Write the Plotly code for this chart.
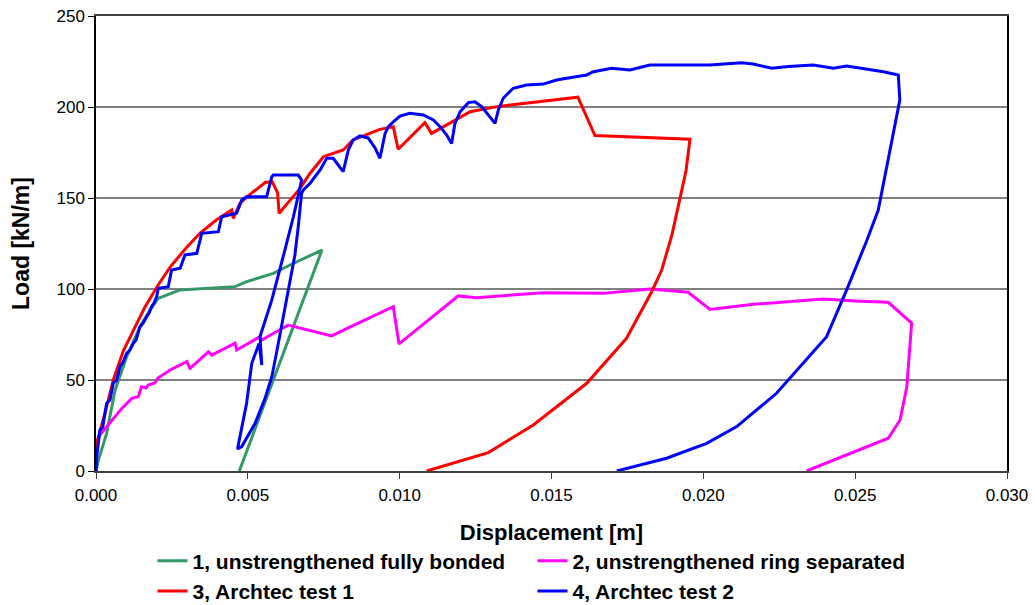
import plotly.graph_objects as go

# Load-displacement curves (displacement in m, load in kN/m)
fb_disp = [0, 0.00008, 0.00035, 0.00063, 0.00101, 0.00145, 0.00178, 0.00205, 0.00277,
           0.00458, 0.00496, 0.00584, 0.00639, 0.00744, 0.00472]
fb_load = [0, 6.0, 20.7, 44.5, 62.8, 79.3, 88.5, 94.9, 99.5,
           101.3, 104.0, 108.6, 113.2, 121.4, 0]

rs_disp = [0, 0.00002, 0.00008, 0.00046, 0.00085, 0.00118, 0.00139, 0.00150, 0.00165,
           0.00172, 0.00194, 0.00204, 0.00244, 0.00299, 0.00310, 0.00370, 0.00381,
           0.00458, 0.00463, 0.00540, 0.00546, 0.00633, 0.00776, 0.00836, 0.00979,
           0.00998, 0.01193, 0.01253, 0.01473, 0.01670, 0.01824, 0.01950, 0.02022,
           0.02165, 0.02395, 0.02500, 0.02609, 0.02686, 0.02670, 0.02648, 0.02609,
           0.02340]
rs_load = [0, 11.5, 18.8, 26.2, 34.4, 39.9, 40.8, 46.3, 45.6,
           47.3, 48.4, 51.1, 55.5, 60.1, 56.4, 65.5, 63.7,
           70.2, 66.5, 73.8, 72.0, 80.2, 74.2, 79.0, 90.3,
           69.8, 96.2, 95.2, 98.0, 97.6, 100.0, 98.2, 88.8,
           91.6, 94.5, 93.4, 92.7, 81.2, 46.3, 28.0, 18.0,
           0]

a1_disp = [0, 0.00002, 0.00030, 0.00057, 0.00090, 0.00123, 0.00161, 0.00200, 0.00244,
           0.00299, 0.00342, 0.00397, 0.00436, 0.00447, 0.00452, 0.00474, 0.00496,
           0.00557, 0.00580, 0.00598, 0.00603, 0.00672, 0.00705, 0.00749, 0.00814,
           0.00847, 0.00935, 0.00979, 0.00995, 0.01083, 0.01105, 0.01232, 0.01320,
           0.01587, 0.01643, 0.01797, 0.01956, 0.01943, 0.01923, 0.01897, 0.01863,
           0.01830, 0.01747, 0.01616, 0.01440, 0.01292, 0.01089]
a1_load = [0, 15.0, 32.0, 50.0, 66.0, 77.5, 90.0, 101.0, 112.0,
           123.0, 130.6, 138.0, 142.0, 143.4, 138.8, 147.0, 150.5,
           158.5, 159.0, 153.0, 141.6, 155.3, 163.6, 172.7, 176.4,
           182.0, 187.7, 189.2, 176.8, 191.4, 185.5, 197.4, 200.2,
           205.4, 184.3, 183.3, 182.3, 165.0, 149.0, 130.0, 110.4,
           98.5, 72.9, 48.2, 25.3, 10.1, 0]

a2_disp = [0, 0.00003, 0.00013, 0.00022, 0.00035, 0.00046, 0.00057, 0.00068, 0.00079,
           0.00089, 0.00101, 0.00112, 0.00123, 0.00132, 0.00145, 0.00155, 0.00167,
           0.00175, 0.00183, 0.00191, 0.00200, 0.00205, 0.00238, 0.00249, 0.00277,
           0.00293, 0.00332, 0.00348, 0.00403, 0.00414, 0.00463, 0.00480, 0.00496,
           0.00562, 0.00579, 0.00584, 0.00666, 0.00677, 0.00659, 0.00650, 0.00622,
           0.00579, 0.00540, 0.00546, 0.00537, 0.00513, 0.00496, 0.00469, 0.00466,
           0.00480, 0.00524, 0.00557, 0.00579, 0.00595, 0.00617, 0.00639, 0.00655,
           0.00666, 0.00677, 0.00683, 0.00705, 0.00738, 0.00760, 0.00781, 0.00814,
           0.00831, 0.00847, 0.00869, 0.00896, 0.00919, 0.00935, 0.00952, 0.00963,
           0.00979, 0.01001, 0.01034, 0.01078, 0.01111, 0.01133, 0.01155, 0.01171,
           0.01182, 0.01199, 0.01226, 0.01248, 0.01270, 0.01297, 0.01314, 0.01325,
           0.01341, 0.01374, 0.01418, 0.01473, 0.01517, 0.01550, 0.01616, 0.01638,
           0.01698, 0.01758, 0.01824, 0.02022, 0.02126, 0.02164, 0.02225, 0.02280,
           0.02362, 0.02428, 0.02472, 0.02593, 0.02642, 0.02647, 0.02636, 0.02576,
           0.02539, 0.02500, 0.02472, 0.02406, 0.02280, 0.02241, 0.02110, 0.02011,
           0.01879, 0.01835, 0.01715]
a2_load = [0, 8.8, 22.5, 24.0, 37.2, 39.0, 48.2, 50.0, 57.3,
           59.9, 64.7, 66.5, 70.2, 72.0, 79.3, 81.3, 84.8,
           86.8, 90.3, 92.3, 95.8, 100.4, 101.3, 110.4, 111.4,
           118.7, 119.6, 130.6, 131.5, 139.7, 141.6, 148.9, 150.7,
           150.7, 161.7, 162.6, 162.6, 159.9, 146.2, 139.7, 121.4,
           94.0, 73.8, 58.2, 70.0, 59.2, 37.2, 14.3, 12.1,
           13.4, 26.2, 40.1, 51.8, 65.4, 84.8, 103.1, 118.7,
           134.2, 152.6, 154.4, 158.1, 165.4, 171.8, 171.8, 164.5,
           176.4, 181.9, 184.1, 183.0, 177.5, 171.8, 185.5, 189.2,
           191.9, 195.0, 196.5, 195.6, 192.9, 189.2, 184.6, 180.0,
           191.0, 197.4, 202.4, 202.9, 200.2, 194.7, 191.0, 198.4,
           204.8, 210.3, 212.1, 212.6, 214.8, 215.8, 217.6, 219.4,
           221.3, 220.3, 223.1, 223.1, 224.3, 223.6, 221.3, 222.2,
           223.1, 221.3, 222.5, 219.4, 217.6, 203.8, 194.7, 143.4,
           126.9, 110.4, 99.5, 73.8, 50.0, 42.7, 24.4, 15.2,
           7.0, 5.1, 0]

series = [
    ("1, unstrengthened fully bonded", fb_disp, fb_load, "#339966"),
    ("2, unstrengthened ring separated", rs_disp, rs_load, "#FF00FF"),
    ("3, Archtec test 1", a1_disp, a1_load, "#FF0000"),
    ("4, Archtec test 2", a2_disp, a2_load, "#0000FF"),
]

FONT = "Liberation Sans, Arial, sans-serif"

fig = go.Figure()
for name, xs, ys, color in series:
    fig.add_trace(go.Scatter(x=xs, y=ys, mode="lines", name=name,
                             line=dict(color=color, width=3)))

fig.update_layout(
    width=1035, height=605,
    margin=dict(l=96, r=28, t=16, b=134, autoexpand=False),
    paper_bgcolor="white", plot_bgcolor="white",
    font=dict(family=FONT, color="black"),
    showlegend=True,
    legend=dict(
        orientation="h", x=0.062, xanchor="left", y=-0.153, yanchor="top",
        font=dict(family=FONT, size=21, color="black", weight="bold"),
        entrywidth=335, entrywidthmode="pixels",
        itemwidth=30, bgcolor="rgba(0,0,0,0)",
    ),
)

fig.update_xaxes(
    range=[0, 0.030], dtick=0.005, tick0=0, tickformat=".3f",
    showgrid=False, zeroline=False, automargin=False,
    showline=True, linecolor="#404040", linewidth=1.5, mirror=True,
    ticks="outside", ticklen=6, tickcolor="#404040",
    ticklabelstandoff=2,
    tickfont=dict(family=FONT, size=17, color="black"),
    title=dict(text="Displacement [m]", standoff=20,
               font=dict(family=FONT, size=22, color="black", weight="bold")),
)
fig.update_yaxes(
    range=[0, 250], dtick=50, tick0=0,
    showgrid=True, gridcolor="#808080", gridwidth=1.5, zeroline=False,
    automargin=False,
    showline=True, linecolor="black", linewidth=1.5, mirror=True,
    ticks="outside", ticklen=6, tickcolor="black",
    tickfont=dict(family=FONT, size=17, color="black"),
    title=dict(text="Load [kN/m]", standoff=20,
               font=dict(family=FONT, size=23, color="black", weight="bold")),
)

fig.write_html("out.html")
